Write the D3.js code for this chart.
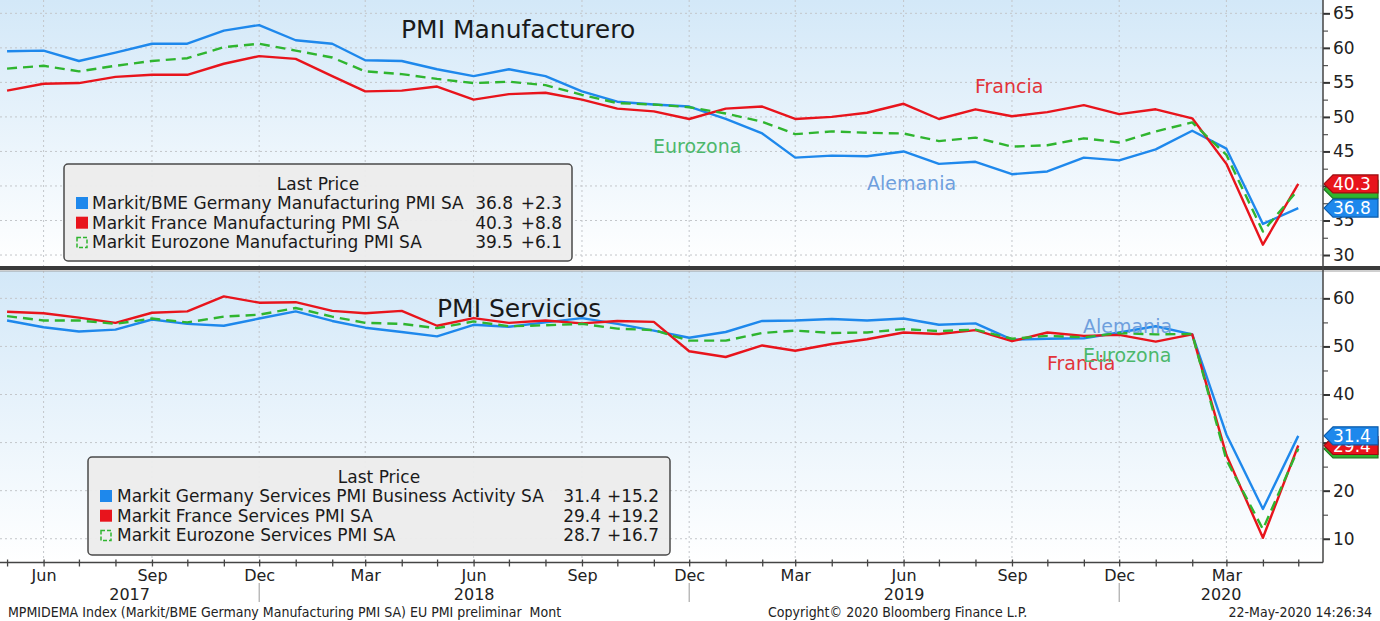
<!DOCTYPE html>
<html>
<head>
<meta charset="utf-8">
<script src="https://cdn.jsdelivr.net/npm/d3@7"></script>
<style>
  body { margin: 0; background: #fff; }
  svg { display: block; font-family: "DejaVu Sans", sans-serif; }
</style>
</head>
<body>
<svg id="chart" width="1380" height="621"></svg>
<script>
// Monthly observations, May 2017 .. May 2020 (flash)
const months = [
  "2017-05","2017-06","2017-07","2017-08","2017-09","2017-10","2017-11","2017-12",
  "2018-01","2018-02","2018-03","2018-04","2018-05","2018-06","2018-07","2018-08","2018-09","2018-10","2018-11","2018-12",
  "2019-01","2019-02","2019-03","2019-04","2019-05","2019-06","2019-07","2019-08","2019-09","2019-10","2019-11","2019-12",
  "2020-01","2020-02","2020-03","2020-04","2020-05"
];

// Manufacturing PMI
const deMfg = [59.5,59.6,58.1,59.3,60.6,60.6,62.5,63.3, 61.1,60.6,58.2,58.1,56.9,55.9,56.9,55.9,53.7,52.2,51.8,51.5,
               49.7,47.6,44.1,44.4,44.3,45.0,43.2,43.5,41.7,42.1,44.1,43.7, 45.3,48.0,45.4,34.5,36.8];
const frMfg = [53.8,54.8,54.9,55.8,56.1,56.1,57.7,58.8, 58.4,55.9,53.7,53.8,54.4,52.5,53.3,53.5,52.5,51.2,50.8,49.7,
               51.2,51.5,49.7,50.0,50.6,51.9,49.7,51.1,50.1,50.7,51.7,50.4, 51.1,49.8,43.2,31.5,40.3];
const ezMfg = [57.0,57.4,56.6,57.4,58.1,58.5,60.1,60.6, 59.6,58.6,56.6,56.2,55.5,54.9,55.1,54.6,53.2,52.0,51.8,51.4,
               50.5,49.3,47.5,47.9,47.7,47.6,46.5,47.0,45.7,45.9,46.9,46.3, 47.9,49.2,44.5,33.4,39.5];

// Services PMI
const deSvc = [55.4,54.0,53.1,53.5,55.6,54.7,54.3,55.8, 57.3,55.3,53.9,53.0,52.1,54.5,54.1,55.0,55.9,54.7,53.3,51.8,
               53.0,55.3,55.4,55.7,55.4,55.8,54.5,54.8,51.4,51.6,51.7,52.9, 54.2,52.5,31.7,16.2,31.4];
const frSvc = [57.2,56.9,56.0,54.9,57.0,57.3,60.4,59.1, 59.2,57.4,56.9,57.4,54.3,55.9,54.9,55.4,54.8,55.3,55.1,49.0,
               47.8,50.2,49.1,50.5,51.5,52.9,52.6,53.4,51.1,52.9,52.2,52.4, 51.0,52.5,27.4,10.2,29.4];
const ezSvc = [56.3,55.4,55.4,54.7,55.8,55.0,56.2,56.6, 58.0,56.2,54.9,54.7,53.8,55.2,54.2,54.4,54.7,53.7,53.4,51.2,
               51.2,52.8,53.3,52.8,52.9,53.6,53.2,53.5,51.6,52.2,51.9,52.8, 52.5,52.6,26.4,12.0,28.7];

const mfgNames = ["Markit/BME Germany Manufacturing PMI SA", "Markit France Manufacturing PMI SA", "Markit Eurozone Manufacturing PMI SA"];
const svcNames = ["Markit Germany Services PMI Business Activity SA", "Markit France Services PMI SA", "Markit Eurozone Services PMI SA"];
const countryLabels = ["Alemania", "Francia", "Eurozona"];

const mfgTicks = [30, 35, 40, 45, 50, 55, 60, 65];
const svcTicks = [10, 20, 30, 40, 50, 60];

// colours: Germany, France, Eurozone
const lineColors = ["#1e88ec", "#e8141c", "#2fb52f"];
const tagBorders = ["#0b5aa8", "#9c0c10", "#1d7a1d"];
const noteColors = ["#6f9fdd", "#e2343a", "#4cb86b"];

const W = 1380, H = 621;
const plotR = 1323;
const axisY = 562.5;

const svg = d3.select("#chart");
const dates = months.map(d3.timeParse("%Y-%m"));

const x = d3.scaleTime()
    .domain([new Date(2017, 3, 25), new Date(2020, 4, 22)])
    .range([0, plotR]);

const defs = svg.append("defs");
const grad = defs.append("linearGradient")
    .attr("id", "bg").attr("x1", 0).attr("y1", 0).attr("x2", 0).attr("y2", 1);
grad.append("stop").attr("offset", "0%").attr("stop-color", "#d3e8f8");
grad.append("stop").attr("offset", "100%").attr("stop-color", "#ffffff");

const fmtChg = d3.format("+.1f");
const quarterTicks = d3.timeMonths(new Date(2017, 4, 1), new Date(2020, 4, 2)).filter(d => d.getMonth() % 3 === 2);

function drawPanel(cfg) {
    const y = d3.scaleLinear().domain(cfg.domain).range([cfg.bottom, cfg.top]);
    const g = svg.append("g");
    const lastY = cfg.series.map(s => y(s[s.length - 1]));

    g.append("rect")
        .attr("x", 0).attr("y", cfg.top)
        .attr("width", plotR).attr("height", cfg.bottom - cfg.top)
        .attr("fill", "url(#bg)");

    // dotted grid
    g.append("g").selectAll("line.h")
        .data(cfg.ticks).enter().append("line")
        .attr("x1", 0).attr("x2", plotR)
        .attr("y1", d => y(d)).attr("y2", d => y(d))
        .attr("stroke", "#c3c6ca").attr("stroke-width", 1).attr("stroke-dasharray", "2,3");
    g.append("g").selectAll("line.v")
        .data(quarterTicks).enter().append("line")
        .attr("x1", d => x(d)).attr("x2", d => x(d))
        .attr("y1", cfg.top).attr("y2", cfg.bottom)
        .attr("stroke", "#c3c6ca").attr("stroke-width", 1).attr("stroke-dasharray", "2,3");

    // right axis; labels sitting under a value tag are hidden as in the original
    const ax = g.append("g")
        .attr("transform", `translate(${plotR},0)`)
        .call(d3.axisRight(y).tickValues(cfg.ticks).tickSize(7).tickPadding(3).tickFormat(d3.format("d")));
    ax.select(".domain").remove();
    ax.selectAll("line").attr("stroke", "#333").attr("stroke-width", 2);
    ax.selectAll("text").attr("font-size", 17).attr("fill", "#222").attr("font-family", "DejaVu Sans");
    ax.selectAll(".tick text")
        .filter(d => lastY.some(ly => Math.abs(ly - y(d)) < 9))
        .remove();
    const minor = g.append("g")
        .attr("transform", `translate(${plotR},0)`)
        .call(d3.axisRight(y).tickValues(cfg.minor).tickSize(5).tickFormat(""));
    minor.select(".domain").remove();
    minor.selectAll("line").attr("stroke", "#555").attr("stroke-width", 1.2);

    // series
    const line = d3.line()
        .x((d, i) => x(dates[i]))
        .y(d => y(d));
    cfg.series.forEach((s, k) => {
        g.append("path")
            .datum(s)
            .attr("fill", "none")
            .attr("stroke", lineColors[k])
            .attr("stroke-width", 2.4)
            .attr("stroke-linejoin", "round")
            .attr("stroke-dasharray", k === 2 ? "10,6" : null)
            .attr("d", line);
    });

    // title
    g.append("text")
        .attr("x", cfg.titleX).attr("y", cfg.titleY)
        .attr("font-size", 25).attr("fill", "#1a1a1a")
        .text(cfg.title);

    // in-plot country notes
    cfg.notes.forEach((p, k) => {
        g.append("text")
            .attr("x", p[0]).attr("y", p[1])
            .attr("font-size", 19).attr("fill", noteColors[k])
            .text(countryLabels[k]);
    });

    // legend
    const L = cfg.legend;
    const lg = g.append("g");
    lg.append("rect")
        .attr("x", L.x).attr("y", L.y).attr("width", L.w).attr("height", L.h)
        .attr("rx", 4)
        .attr("fill", "#ececec").attr("fill-opacity", 0.95)
        .attr("stroke", "#4a4a4a").attr("stroke-width", 1.5);
    lg.append("text")
        .attr("x", L.x + L.w / 2).attr("y", L.y + 26)
        .attr("text-anchor", "middle").attr("font-size", 17).attr("fill", "#1a1a1a")
        .text("Last Price");
    cfg.names.forEach((name, k) => {
        const s = cfg.series[k];
        const last = s[s.length - 1], prev = s[s.length - 2];
        const by = L.y + 45 + k * 19.7;
        if (k === 2) {
            lg.append("rect")
                .attr("x", L.swatchX + 1).attr("y", by - 11)
                .attr("width", 10).attr("height", 10)
                .attr("fill", "none").attr("stroke", lineColors[k]).attr("stroke-width", 1.5)
                .attr("stroke-dasharray", "4,2");
        } else {
            lg.append("rect")
                .attr("x", L.swatchX).attr("y", by - 12)
                .attr("width", 12).attr("height", 12)
                .attr("fill", lineColors[k]);
        }
        lg.append("text")
            .attr("x", L.textX).attr("y", by)
            .attr("font-size", 17).attr("fill", "#1a1a1a")
            .text(name);
        lg.append("text")
            .attr("x", L.valX).attr("y", by)
            .attr("text-anchor", "end").attr("font-size", 17).attr("fill", "#1a1a1a")
            .text(last.toFixed(1));
        lg.append("text")
            .attr("x", L.chgX).attr("y", by)
            .attr("text-anchor", "end").attr("font-size", 17).attr("fill", "#1a1a1a")
            .text(fmtChg(last - prev));
    });

    // last value tags on the axis (Eurozone under France under Germany);
    // the Eurozone tag is fully covered in the picture, so it carries no text
    [2, 1, 0].forEach(k => {
        const s = cfg.series[k];
        const v = s[s.length - 1];
        const cy = lastY[k];
        const t = g.append("g");
        t.append("path")
            .attr("d", `M${plotR + 1},${cy} L${plotR + 10},${cy - 9} L${W - 2},${cy - 9} L${W - 2},${cy + 9} L${plotR + 10},${cy + 9} Z`)
            .attr("fill", lineColors[k]).attr("stroke", tagBorders[k]).attr("stroke-width", 1.2);
        if (k !== 2) {
            t.append("text")
                .attr("x", plotR + 10).attr("y", cy).attr("dy", "0.36em")
                .attr("font-size", 17).attr("fill", "#fff")
                .text(v.toFixed(1));
        }
    });
}

drawPanel({
    top: 0, bottom: 266, domain: [28.41, 66.93],
    ticks: mfgTicks, minor: [32.5, 37.5, 42.5, 47.5, 52.5, 57.5, 62.5],
    series: [deMfg, frMfg, ezMfg], names: mfgNames,
    title: "PMI Manufacturero", titleX: 401, titleY: 38,
    notes: [[867, 190], [975, 93], [653, 153]],
    legend: {x: 64, y: 164, w: 508, h: 97, swatchX: 76, textX: 92, valX: 513, chgX: 562}
});

drawPanel({
    top: 271, bottom: axisY, domain: [5.06, 65.69],
    ticks: svcTicks, minor: [15, 25, 35, 45, 55],
    series: [deSvc, frSvc, ezSvc], names: svcNames,
    title: "PMI Servicios", titleX: 437, titleY: 317,
    notes: [[1083, 333], [1047, 370], [1083, 362]],
    legend: {x: 88, y: 457, w: 582, h: 98, swatchX: 100, textX: 117, valX: 601, chgX: 659}
});

// panel separator
svg.append("rect").attr("x", 0).attr("y", 266).attr("width", W).attr("height", 4).attr("fill", "#3a3a3a");
svg.append("line").attr("x1", 0).attr("x2", W).attr("y1", 271).attr("y2", 271).attr("stroke", "#a0a0a0");

// right axis line
svg.append("line")
    .attr("x1", plotR).attr("x2", plotR).attr("y1", 0).attr("y2", axisY)
    .attr("stroke", "#444").attr("stroke-width", 1.5);

// bottom time axis
const xa = svg.append("g")
    .attr("transform", `translate(0,${axisY})`)
    .call(d3.axisBottom(x)
        .tickValues(dates)
        .tickSize(4)
        .tickFormat(d => d.getMonth() % 3 === 2 ? d3.timeFormat("%b")(d) : ""));
xa.select(".domain").attr("d", `M0,0H${plotR}`).attr("stroke", "#444").attr("stroke-width", 1.5);
xa.selectAll(".tick line").attr("y1", -3).attr("stroke", "#444").attr("stroke-width", 1.3);
xa.selectAll(".tick text")
    .attr("y", 18).attr("dy", 0)
    .attr("font-size", 16).attr("fill", "#222").attr("font-family", "DejaVu Sans");

// year dividers and year labels
const yearBreaks = [new Date(2017, 11, 1), new Date(2018, 11, 1), new Date(2019, 11, 1)];
svg.selectAll("line.yr").data(yearBreaks).enter().append("line")
    .attr("x1", d => x(d)).attr("x2", d => x(d))
    .attr("y1", 583).attr("y2", 602)
    .attr("stroke", "#999").attr("stroke-width", 1);
const edges = [0, ...yearBreaks.map(x), plotR];
const years = ["2017", "2018", "2019", "2020"];
svg.selectAll("text.yr").data(years).enter().append("text")
    .attr("x", (d, i) => (edges[i] + edges[i + 1]) / 2)
    .attr("y", 600)
    .attr("text-anchor", "middle").attr("font-size", 16).attr("fill", "#222")
    .text(d => d);

// footer
const foot = svg.append("g")
    .attr("font-family", "'DejaVu Sans Condensed', 'DejaVu Sans', sans-serif")
    .attr("font-stretch", "condensed")
    .attr("font-size", 14).attr("fill", "#222");
foot.append("text").attr("x", 8).attr("y", 617)
    .text("MPMIDEMA Index (Markit/BME Germany Manufacturing PMI SA) EU PMI preliminar  Mont")
    .attr("xml:space", "preserve").style("white-space", "pre");
foot.append("text").attr("x", 768).attr("y", 617)
    .text("Copyright\u00a9 2020 Bloomberg Finance L.P.");
foot.append("text").attr("x", 1372).attr("y", 617).attr("text-anchor", "end")
    .text("22-May-2020 14:26:34");
</script>
</body>
</html>
